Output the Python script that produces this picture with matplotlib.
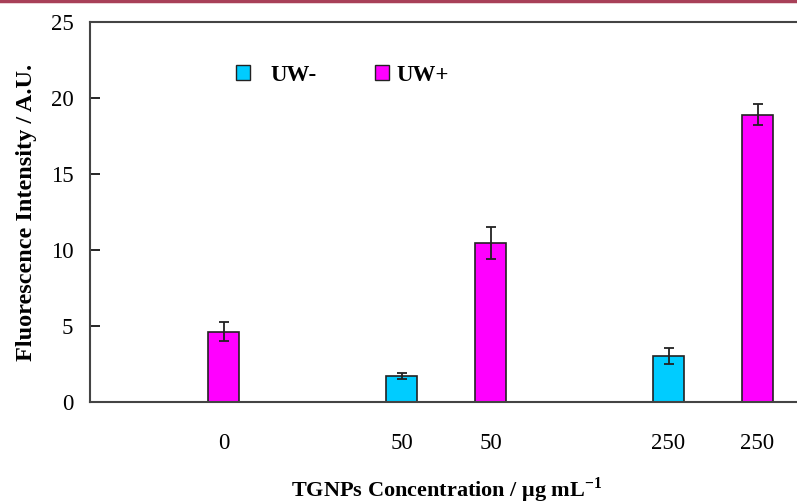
import numpy as np
import matplotlib.pyplot as plt
from matplotlib.patches import Patch
from matplotlib.lines import Line2D

plt.rcParams['font.family'] = ['Liberation Serif', 'DejaVu Serif']
plt.rcParams['mathtext.fontset'] = 'custom'
plt.rcParams['mathtext.rm'] = 'Liberation Serif'
plt.rcParams['mathtext.bf'] = 'Liberation Serif:bold'

# bar slots along the x axis and their concentration labels
positions = [0, 2, 3, 5, 6]
tick_labels = ['0', '50', '50', '250', '250']

uw_minus_pos = [2, 5]
uw_minus = [1.72, 3.03]
uw_minus_err = [0.22, 0.52]

uw_plus_pos = [0, 3, 6]
uw_plus = [4.62, 10.44, 18.9]
uw_plus_err = [0.62, 1.05, 0.7]

fig = plt.figure(figsize=(7.97, 5.04), dpi=100)
ax = fig.add_axes([90 / 797, 102 / 504, 801 / 797, 380 / 504])

w = 0.35
ax.bar(uw_minus_pos, uw_minus, width=w, color='#00CCFF', edgecolor='#222222',
       linewidth=1.2, yerr=uw_minus_err, capsize=3.6,
       error_kw=dict(ecolor='#222222', elinewidth=1.3, capthick=1.3))
ax.bar(uw_plus_pos, uw_plus, width=w, color='#FF00FF', edgecolor='#222222',
       linewidth=1.2, yerr=uw_plus_err, capsize=3.6,
       error_kw=dict(ecolor='#222222', elinewidth=1.3, capthick=1.3))

ax.set_xlim(-1.5, 7.5)
ax.set_ylim(0, 25)
ax.set_yticks(np.arange(0, 26, 5))
ax.set_xticks(positions)
ax.set_xticklabels(tick_labels)
ax.tick_params(axis='y', direction='in', length=7, width=1.2, labelsize=16.5, pad=12)
ax.tick_params(axis='x', length=0, labelsize=16.5, pad=22)
for s in ax.spines.values():
    s.set_color('#444444')
    s.set_linewidth(1.5)

ax.set_ylabel('Fluorescence Intensity / A.U.', fontsize=17.5, fontweight='bold', labelpad=10)
fig.text(447 / 797, 1 - 490 / 504, r'TGNPs Concentration / μg mL$^{\mathbf{-1}}$',
         ha='center', va='center', fontsize=16, fontweight='bold')

# two single-entry legends so each keeps its own gap between box and text
leg_kw = dict(frameon=False, loc='center left', handlelength=0.62, handleheight=0.62,
              prop={'weight': 'bold', 'size': 16.5})
leg1 = ax.legend(handles=[Patch(facecolor='#00CCFF', edgecolor='#222222',
                                linewidth=1.0, label='UW-')],
                 bbox_to_anchor=(125 / 801, 1 - 53 / 380), handletextpad=0.92, **leg_kw)
ax.add_artist(leg1)
ax.legend(handles=[Patch(facecolor='#FF00FF', edgecolor='#222222',
                         linewidth=1.0, label='UW+')],
          bbox_to_anchor=(264 / 801, 1 - 53 / 380), handletextpad=0.35, **leg_kw)

# thin rule along the top edge of the page
fig.add_artist(Line2D([0, 1], [0.998, 0.998], transform=fig.transFigure,
                      color='#A84058', linewidth=2.5))

fig.savefig('out.png', dpi=100)
